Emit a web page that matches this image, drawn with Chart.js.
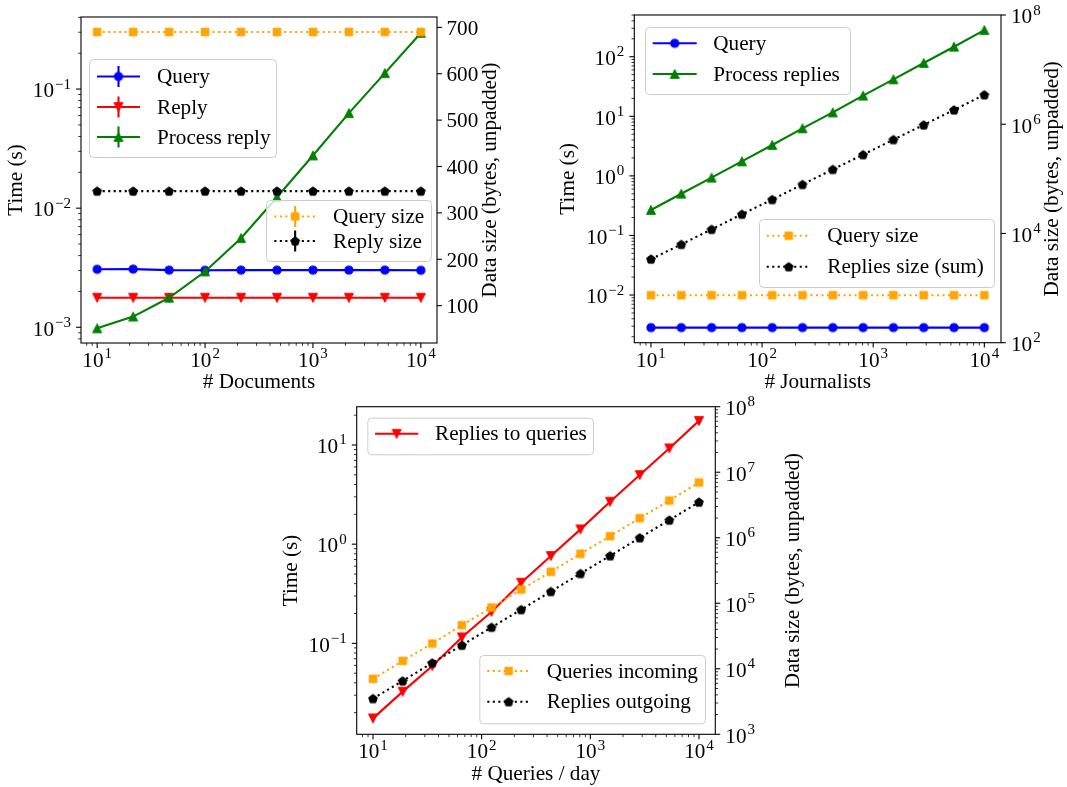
<!DOCTYPE html>
<html lang="en">
<head>
<meta charset="UTF-8">
<title>Query / reply timing and data size</title>
<script src="https://cdn.jsdelivr.net/npm/chart.js"></script>
<style>
  body { margin: 0; background: #fff; }
  #wrap { position: relative; width: 1067px; height: 787px; }
  canvas { position: absolute; }
</style>
</head>
<body>
<div id="wrap">
  <canvas id="c1" width="533" height="395" style="left:0;top:0"></canvas>
  <canvas id="c2" width="534" height="395" style="left:533px;top:0"></canvas>
  <canvas id="c3" width="540" height="392" style="left:270px;top:395px"></canvas>
</div>
<script>
// ---- data ----
const documents = [10, 21.54, 46.42, 100, 215.4, 464.2, 1000, 2154, 4642, 10000];
const docQueryTime = [0.00307, 0.00308, 0.00302, 0.00301, 0.00302, 0.00302, 0.00302, 0.00302, 0.00302, 0.00301];
const docReplyTime = [0.00177, 0.00177, 0.00177, 0.00177, 0.00177, 0.00177, 0.00177, 0.00177, 0.00177, 0.00177];
const docProcessTime = [0.00098, 0.00123, 0.00177, 0.00294, 0.0056, 0.01236, 0.0277, 0.0628, 0.136, 0.296];
const docQuerySize = [690, 690, 690, 690, 690, 690, 690, 690, 690, 690];
const docReplySize = [347, 347, 347, 347, 347, 347, 347, 347, 347, 347];

const journalists = [10, 18.74, 35.11, 65.79, 123.3, 231.0, 432.9, 811.1, 1520, 2848, 5337, 10000];
const jQueryTime = [0.00284, 0.00284, 0.00284, 0.00284, 0.00284, 0.00284, 0.00284, 0.00284, 0.00284, 0.00284, 0.00284, 0.00284];
const jProcessTime = [0.267, 0.502, 0.933, 1.75, 3.30, 6.28, 11.6, 22.2, 41.7, 78.3, 147, 280];
const jQuerySize = [740, 740, 740, 740, 740, 740, 740, 740, 740, 740, 740, 740];
const jRepliesSize = [3396, 6310, 11900, 22500, 41800, 78900, 149000, 277000, 523000, 973000, 1830000, 3460000];

const queriesPerDay = [10, 18.74, 35.11, 65.79, 123.3, 231.0, 432.9, 811.1, 1520, 2848, 5337, 10000];
const qReplyTime = [0.01753, 0.0326, 0.059, 0.115, 0.2085, 0.409, 0.760, 1.41, 2.68, 4.98, 9.25, 17.5];
const qIncomingSize = [7000, 13200, 24300, 46200, 86000, 162000, 302000, 569000, 1057000, 1990000, 3700000, 6980000];
const qOutgoingSize = [3510, 6530, 12300, 22900, 43000, 80100, 151000, 284000, 530000, 998000, 1860000, 3500000];

// tick labels (powers of ten for log axes)
const xPowers = [1, 2, 3, 4];
const docTimePowers = [-3, -2, -1];
const docSizeTicks = [100, 200, 300, 400, 500, 600, 700];
const jTimePowers = [-2, -1, 0, 1, 2];
const jSizePowers = [2, 4, 6, 8];
const qTimePowers = [-1, 0, 1];
const qSizePowers = [3, 4, 5, 6, 7, 8];

// ---- style ----
const FONT = "'Liberation Serif', 'Times New Roman', serif";
const FS = 21.2, SUP = 15, RAISE = 8.8;
const LW = 2.1, DOT = [2.1, 3.4];
const xLim = [0.85, 4.15];

function markerImg(shape, color) {
  const c = document.createElement('canvas');
  c.width = 14; c.height = 14;
  const g = c.getContext('2d');
  g.fillStyle = color; g.strokeStyle = color; g.lineWidth = 1;
  g.translate(7, 7);
  g.beginPath();
  if (shape === 'o') g.arc(0, 0, 4.1, 0, Math.PI * 2);
  else if (shape === 's') g.rect(-3.8, -3.8, 7.6, 7.6);
  else if (shape === '^') { g.moveTo(0, -4.5); g.lineTo(-4.5, 4.3); g.lineTo(4.5, 4.3); g.closePath(); }
  else if (shape === 'v') { g.moveTo(0, 4.5); g.lineTo(-4.5, -4.3); g.lineTo(4.5, -4.3); g.closePath(); }
  else if (shape === 'p') {
    for (let k = 0; k < 5; k++) {
      const a = (-90 + 72 * k) * Math.PI / 180;
      g.lineTo(4.6 * Math.cos(a), 4.6 * Math.sin(a) + 0.4);
    }
    g.closePath();
  }
  g.fill(); g.stroke();
  return c;
}

function pts(xs, ys) { return xs.map((x, i) => ({x: x, y: ys[i]})); }

function series(label, xs, ys, color, marker, axis, dotted, order) {
  return {
    label: label, data: pts(xs, ys), borderColor: color, backgroundColor: color,
    borderWidth: LW, borderDash: dotted ? DOT : [], pointStyle: markerImg(marker, color),
    pointRadius: 4, pointHoverRadius: 4, tension: 0, fill: false,
    yAxisID: axis, order: order
  };
}

function minors(lo, hi) {
  const out = [];
  for (let e = Math.floor(lo); e <= Math.ceil(hi); e++) {
    for (let k = 2; k <= 9; k++) {
      const l = Math.log10(k * Math.pow(10, e));
      if (l >= lo && l <= hi) out.push(k * Math.pow(10, e));
    }
  }
  return out;
}

function drawPow(ctx, p, x, baseY, align) {
  const sup = (p < 0 ? '\u2212' : '') + Math.abs(p);
  ctx.font = FS + 'px ' + FONT;
  const w1 = ctx.measureText('10').width;
  ctx.font = SUP + 'px ' + FONT;
  const w2 = ctx.measureText(sup).width;
  const w = w1 + w2 + 1;
  const x0 = align === 'center' ? x - w / 2 : (align === 'right' ? x - w : x);
  ctx.textAlign = 'left'; ctx.textBaseline = 'alphabetic';
  ctx.font = FS + 'px ' + FONT;
  ctx.fillText('10', x0, baseY);
  ctx.font = SUP + 'px ' + FONT;
  ctx.fillText(sup, x0 + w1 + 1, baseY - RAISE);
}

function tick(ctx, side, a, p, len, w) {
  ctx.lineWidth = w;
  ctx.beginPath();
  if (side === 'bottom') { ctx.moveTo(p, a.bottom); ctx.lineTo(p, a.bottom + len); }
  else if (side === 'left') { ctx.moveTo(a.left, p); ctx.lineTo(a.left - len, p); }
  else { ctx.moveTo(a.right, p); ctx.lineTo(a.right + len, p); }
  ctx.stroke();
}

function drawLegend(ctx, chart, lg, withErr) {
  const [x0, y0, x1, y1] = lg.box;
  ctx.save();
  ctx.beginPath();
  ctx.roundRect(x0 + 0.5, y0 + 0.5, x1 - x0, y1 - y0, 4);
  ctx.fillStyle = 'rgba(255,255,255,0.8)';
  ctx.fill();
  ctx.strokeStyle = '#cccccc'; ctx.lineWidth = 1;
  ctx.stroke();
  const mid = (lg.line[0] + lg.line[1]) / 2;
  lg.items.forEach(it => {
    const ds = chart.data.datasets[it.ds];
    ctx.strokeStyle = ds.borderColor; ctx.lineWidth = LW;
    ctx.setLineDash(ds.borderDash);
    ctx.beginPath(); ctx.moveTo(lg.line[0], it.y); ctx.lineTo(lg.line[1], it.y); ctx.stroke();
    ctx.setLineDash([]);
    if (withErr) {
      ctx.beginPath(); ctx.moveTo(mid, it.y - 10.5); ctx.lineTo(mid, it.y + 10.5); ctx.stroke();
    }
    ctx.drawImage(ds.pointStyle, mid - 7, it.y - 7);
    ctx.fillStyle = '#000'; ctx.font = FS + 'px ' + FONT;
    ctx.textAlign = 'left'; ctx.textBaseline = 'middle';
    ctx.fillText(ds.label, lg.textX, it.y + 1);
  });
  ctx.restore();
}

function decor(g) {
  return {
    id: 'decor',
    afterDraw(chart) {
      const ctx = chart.ctx, a = chart.chartArea;
      const sx = chart.scales.x, sy = chart.scales.y, sr = chart.scales.y1;
      ctx.save();
      ctx.strokeStyle = '#000'; ctx.fillStyle = '#000';
      // x axis
      xPowers.forEach(p => {
        const px = sx.getPixelForValue(Math.pow(10, p));
        tick(ctx, 'bottom', a, px, 4.9, 1.1);
        drawPow(ctx, p, px, a.bottom + 24, 'center');
      });
      minors(xLim[0], xLim[1]).forEach(v => tick(ctx, 'bottom', a, sx.getPixelForValue(v), 2.8, 0.8));
      // left axis
      g.yPowers.forEach(p => {
        const py = sy.getPixelForValue(Math.pow(10, p));
        tick(ctx, 'left', a, py, 4.9, 1.1);
        drawPow(ctx, p, a.left - 10, py + 8.3, 'right');
      });
      minors(g.yLim[0], g.yLim[1]).forEach(v => tick(ctx, 'left', a, sy.getPixelForValue(v), 2.8, 0.8));
      // right axis
      if (g.y1Linear) {
        g.y1Ticks.forEach(v => {
          const py = sr.getPixelForValue(v);
          tick(ctx, 'right', a, py, 4.9, 1.1);
          ctx.font = FS + 'px ' + FONT; ctx.textAlign = 'left'; ctx.textBaseline = 'alphabetic';
          ctx.fillText(String(v), a.right + 9.5, py + 7.3);
        });
      } else {
        g.y1Powers.forEach(p => {
          const py = sr.getPixelForValue(Math.pow(10, p));
          tick(ctx, 'right', a, py, 4.9, 1.1);
          drawPow(ctx, p, a.right + 10, py + 8.3, 'left');
        });
        if (g.y1Minor) minors(g.y1Lim[0], g.y1Lim[1]).forEach(v => tick(ctx, 'right', a, sr.getPixelForValue(v), 2.8, 0.8));
      }
      // frame
      ctx.lineWidth = 1.1;
      ctx.strokeRect(a.left, a.top, a.right - a.left, a.bottom - a.top);
      // right axis title (reads bottom to top)
      ctx.save();
      ctx.translate(g.rightTitleX, (a.top + a.bottom) / 2);
      ctx.rotate(-Math.PI / 2);
      ctx.font = FS + 'px ' + FONT; ctx.textAlign = 'center'; ctx.textBaseline = 'middle';
      ctx.fillText('Data size (bytes, unpadded)', 0, 0);
      ctx.restore();
      ctx.restore();
      g.legends.forEach(lg => drawLegend(ctx, chart, lg, g.errLegend));
    }
  };
}

function buildChart(id, g) {
  const titleFont = {family: FONT, size: FS};
  const y1 = g.y1Linear
    ? {type: 'linear', min: g.y1Lim[0], max: g.y1Lim[1]}
    : {type: 'logarithmic', min: Math.pow(10, g.y1Lim[0]), max: Math.pow(10, g.y1Lim[1])};
  Object.assign(y1, {
    position: 'right', bounds: 'data', grid: {display: false}, border: {display: false},
    ticks: {display: false}, afterFit: s => { s.width = g.y1W; }
  });
  return new Chart(document.getElementById(id), {
    type: 'line',
    data: {datasets: g.datasets},
    options: {
      responsive: false, animation: false, events: [],
      layout: {padding: {top: g.top, left: 0, right: 0, bottom: 0}},
      plugins: {legend: {display: false}, tooltip: {enabled: false}},
      scales: {
        x: {
          type: 'logarithmic', position: 'bottom', bounds: 'data',
          min: Math.pow(10, xLim[0]), max: Math.pow(10, xLim[1]),
          grid: {display: false}, border: {display: false}, ticks: {display: false},
          title: {display: true, text: g.xTitle, font: titleFont, color: '#000', padding: {top: 0, bottom: 0}},
          afterFit: s => { s.height = g.xH; }
        },
        y: {
          type: 'logarithmic', position: 'left', bounds: 'data',
          min: Math.pow(10, g.yLim[0]), max: Math.pow(10, g.yLim[1]),
          grid: {display: false}, border: {display: false}, ticks: {display: false},
          title: {display: true, text: 'Time (s)', font: titleFont, color: '#000', padding: {top: g.yTitlePad, bottom: 0}},
          afterFit: s => { s.width = g.yW; }
        },
        y1: y1
      }
    },
    plugins: [decor(g)]
  });
}

// ---- chart 1: documents ----
buildChart('c1', {
  top: 17, yW: 81, y1W: 96, xH: 52, yTitlePad: 4, rightTitleX: 490,
  xTitle: '# Documents', yLim: [-3.132, -0.395], yPowers: docTimePowers,
  y1Linear: true, y1Lim: [19.5, 722.3], y1Ticks: docSizeTicks, errLegend: true,
  datasets: [
    series('Query', documents, docQueryTime, '#0000ff', 'o', 'y', false, 5),
    series('Reply', documents, docReplyTime, '#ff0000', 'v', 'y', false, 4),
    series('Process reply', documents, docProcessTime, '#008000', '^', 'y', false, 3),
    series('Query size', documents, docQuerySize, '#ffa500', 's', 'y1', true, 2),
    series('Reply size', documents, docReplySize, '#000000', 'p', 'y1', true, 1)
  ],
  legends: [
    {box: [89, 59, 276, 157], line: [97, 140], textX: 157,
     items: [{ds: 0, y: 76.5}, {ds: 1, y: 107}, {ds: 2, y: 137}]},
    {box: [266, 200, 431, 261], line: [274.3, 316], textX: 333,
     items: [{ds: 3, y: 216.5}, {ds: 4, y: 241}]}
  ]
});

// ---- chart 2: journalists ----
buildChart('c2', {
  top: 15, yW: 101.3, y1W: 66, xH: 52.3, yTitlePad: 22.6, rightTitleX: 519,
  xTitle: '# Journalists', yLim: [-2.80, 2.70], yPowers: jTimePowers,
  y1Linear: false, y1Lim: [2, 8], y1Powers: jSizePowers, y1Minor: false, errLegend: false,
  datasets: [
    series('Query', journalists, jQueryTime, '#0000ff', 'o', 'y', false, 4),
    series('Process replies', journalists, jProcessTime, '#008000', '^', 'y', false, 3),
    series('Query size', journalists, jQuerySize, '#ffa500', 's', 'y1', true, 2),
    series('Replies size (sum)', journalists, jRepliesSize, '#000000', 'p', 'y1', true, 1)
  ],
  legends: [
    {box: [112, 27, 317, 94], line: [119.7, 163.7], textX: 180.3,
     items: [{ds: 0, y: 43.3}, {ds: 1, y: 74}]},
    {box: [226, 219, 461, 287], line: [233.7, 277.7], textX: 294.3,
     items: [{ds: 2, y: 235.7}, {ds: 3, y: 266.7}]}
  ]
});

// ---- chart 3: queries per day ----
buildChart('c3', {
  top: 11.7, yW: 86.7, y1W: 94.7, xH: 52.7, yTitlePad: 9, rightTitleX: 523,
  xTitle: '# Queries / day', yLim: [-1.917, 1.386], yPowers: qTimePowers,
  y1Linear: false, y1Lim: [3, 8], y1Powers: qSizePowers, y1Minor: true, errLegend: false,
  datasets: [
    series('Replies to queries', queriesPerDay, qReplyTime, '#ff0000', 'v', 'y', false, 3),
    series('Queries incoming', queriesPerDay, qIncomingSize, '#ffa500', 's', 'y1', true, 2),
    series('Replies outgoing', queriesPerDay, qOutgoingSize, '#000000', 'p', 'y1', true, 1)
  ],
  legends: [
    {box: [97.3, 22.7, 323, 59.3], line: [105, 148.3], textX: 165,
     items: [{ds: 0, y: 38.8}]},
    {box: [209.3, 260, 435, 328.3], line: [217.3, 260], textX: 276.7,
     items: [{ds: 1, y: 276}, {ds: 2, y: 306.7}]}
  ]
});
</script>
</body>
</html>
